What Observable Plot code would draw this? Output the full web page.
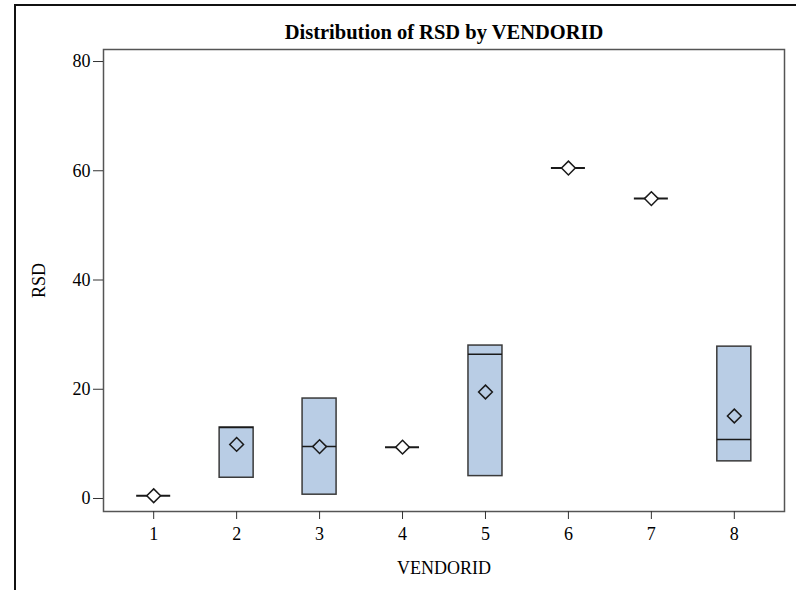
<!DOCTYPE html>
<html><head><meta charset="utf-8">
<script src="https://cdn.jsdelivr.net/npm/d3@7"></script>
<script src="https://cdn.jsdelivr.net/npm/@observablehq/plot@0.6"></script>
<style>
body{margin:0;background:#fff;}
#wrap{position:relative;width:796px;height:590px;overflow:hidden;}
#border{position:absolute;left:14px;top:4px;right:-10px;bottom:-10px;border-left:2px solid #111;border-top:2px solid #111;pointer-events:none;}
</style></head><body>
<div id="wrap"><div id="chart"></div><div id="border"></div></div>
<script>
const vendors = ["1","2","3","4","5","6","7","8"];
const q1Values = [0.5, 3.8, 0.7, 9.4, 4.1, 60.5, 54.9, 6.8];
const medianValues = [0.5, 13.0, 9.5, 9.4, 26.4, 60.5, 54.9, 10.8];
const q3Values = [0.5, 13.0, 18.3, 9.4, 28.0, 60.5, 54.9, 27.8];
const meanValues = [0.5, 9.9, 9.5, 9.4, 19.5, 60.5, 54.9, 15.1];
const yTicks = [0, 20, 40, 60, 80];
const titleText = "Distribution of RSD by VENDORID";
const boxFill = "#b9cde5";

const rows = vendors.map((v, i) => ({
  vendor: v, q1: q1Values[i], median: medianValues[i], q3: q3Values[i], mean: meanValues[i],
  flat: Math.abs(q3Values[i] - q1Values[i]) < 0.01
}));

const chart = Plot.plot({
  width: 796, height: 590,
  marginLeft: 103, marginRight: 12, marginTop: 49, marginBottom: 79,
  style: {fontFamily: "'Liberation Serif', 'Times New Roman', serif", fontSize: "18px", color: "#000", background: "transparent"},
  x: {domain: vendors, paddingInner: 0.59, paddingOuter: 0.4, round: false},
  y: {domain: [-2.38, 82.2]},
  marks: [
    Plot.rect(rows.filter(d => !d.flat), {x: "vendor", y1: "q1", y2: "q3", fill: boxFill, stroke: "#3a3a3a", strokeWidth: 1.5}),
    Plot.tickY(rows, {x: "vendor", y: "median", stroke: "#1a1a1a", strokeWidth: d => d.flat ? 2 : 1.5}),
    Plot.dot(rows, {x: "vendor", y: "mean", symbol: "diamond2", r: 6.2, stroke: "#1a1a1a", strokeWidth: 1.5, fill: d => d.flat ? "white" : boxFill}),
    Plot.frame({stroke: "#555", strokeWidth: 1.5}),
    Plot.axisX({tickSize: 8, tickPadding: 8, stroke: "#333", label: "VENDORID", labelAnchor: "center", labelArrow: "none", labelOffset: 62}),
    Plot.axisY({ticks: yTicks, tickSize: 10, tickPadding: 3, stroke: "#333", label: "RSD", labelAnchor: "center", labelArrow: "none", labelOffset: 71}),
    Plot.text([titleText], {text: d => d, frameAnchor: "top", dy: -17, lineAnchor: "middle", fontWeight: "bold", fontSize: 20.5, fill: "#000"})
  ]
});
document.getElementById("chart").appendChild(chart);
</script>
</body></html>
